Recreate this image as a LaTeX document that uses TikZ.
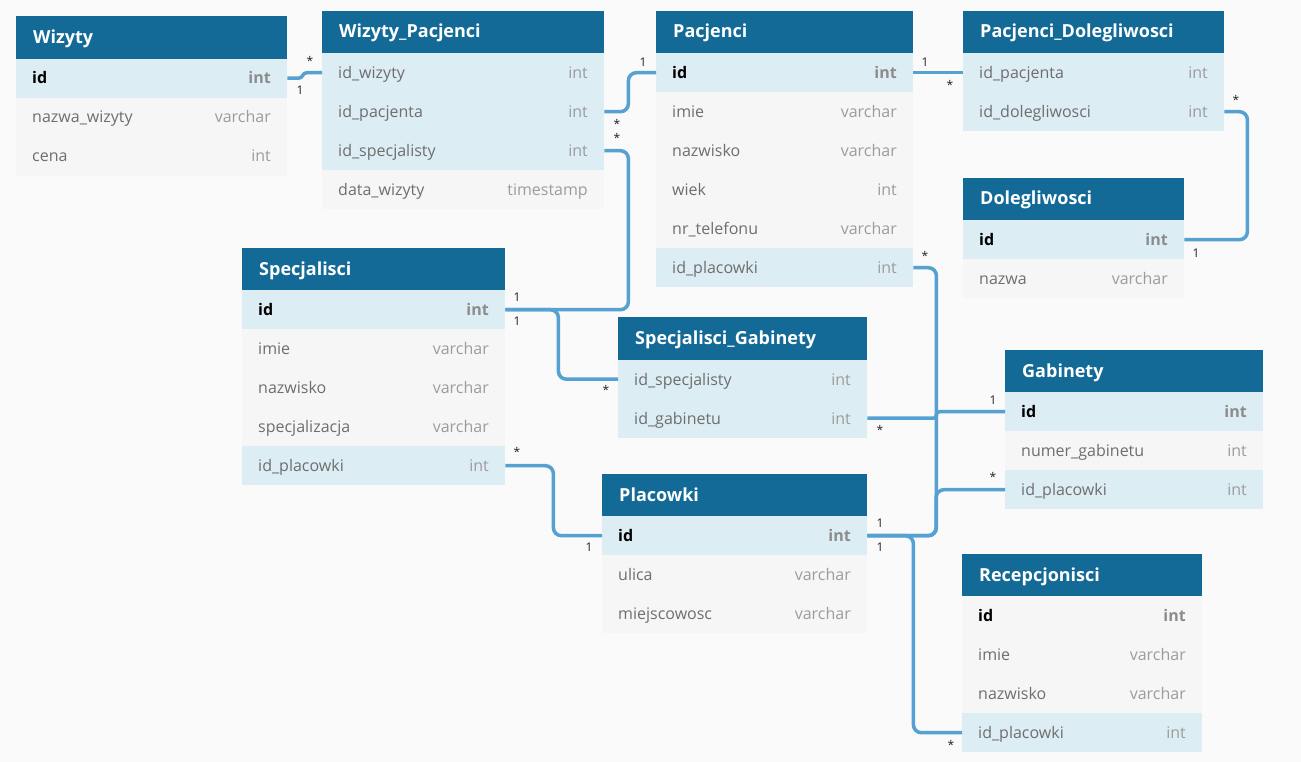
\documentclass[tikz,border=0pt]{standalone}
\usepackage{fontspec}
\setmainfont{Open Sans}
\definecolor{hdr}{HTML}{136A97}
\definecolor{keyrow}{HTML}{DDEDF4}
\definecolor{plainrow}{HTML}{F6F6F6}
\definecolor{bgc}{HTML}{FAFAFA}
\definecolor{linkc}{HTML}{55A1D2}
\definecolor{fieldc}{HTML}{6E6E6E}
\definecolor{typec}{HTML}{9C9C9C}
\definecolor{pktypec}{HTML}{8C8C8C}
\definecolor{lblc}{HTML}{222222}
\tikzset{
  hdrbox/.style={fill=hdr, draw=none, inner sep=0, anchor=north west, minimum height=42.5pt},
  hdrtxt/.style={anchor=base west, inner sep=0, text=white, font=\fontsize{18}{20}\selectfont\bfseries},
  kbox/.style={fill=keyrow, draw=none, inner sep=0, anchor=north west, minimum height=39pt},
  pbox/.style={fill=plainrow, draw=none, inner sep=0, anchor=north west, minimum height=39pt},
  ftxt/.style={anchor=base west, inner sep=0, text=fieldc, font=\fontsize{16}{18}\selectfont},
  ttxt/.style={anchor=base east, inner sep=0, text=typec, font=\fontsize{16}{18}\selectfont},
  pkftxt/.style={anchor=base west, inner sep=0, text=black, font=\fontsize{16}{18}\selectfont\bfseries},
  pkttxt/.style={anchor=base east, inner sep=0, text=pktypec, font=\fontsize{16}{18}\selectfont\bfseries},
  link/.style={draw=linkc, line width=3.5pt, rounded corners=8pt},
  lbl/.style={inner sep=0, text=lblc, font=\fontsize{12}{14}\selectfont}
}
% #1 name, #2 x, #3 y top, #4 width, #5 title
\newcommand\thead[5]{%
  \node[hdrbox, minimum width=#4pt] (#1) at (#2,#3) {};
  \pgfmathsetmacro\hbase{#3+27.5}%
  \node[hdrtxt] (#1-title) at (#2+17,\hbase) {#5};
  \def\curx{#2}\def\cury{#3}\def\curw{#4}}
% #1 name, #2 index, #3 box style, #4 field style, #5 type style, #6 field, #7 type
\newcommand\trow[7]{%
  \pgfmathsetmacro\rowy{\cury+42.5+39*#2}%
  \pgfmathsetmacro\rowb{\rowy+25.5}%
  \pgfmathsetmacro\rowr{\curx+\curw-16}%
  \node[#3, minimum width=\curw pt] (#1) at (\curx,\rowy) {};
  \node[#4] (#1-f) at (\curx+16,\rowb) {#6};
  \node[#5] (#1-t) at (\rowr,\rowb) {#7};}
\begin{document}
\begin{tikzpicture}[x=1pt,y=-1pt]
\fill[bgc] (0,0) rectangle (1301,762);
\useasboundingbox (0,0) rectangle (1301,762);

% Wizyty
\thead{wiz}{16}{16}{271}{Wizyty}
\trow{wiz-id}{0}{kbox}{pkftxt}{pkttxt}{id}{int}
\trow{wiz-nazwa}{1}{pbox}{ftxt}{ttxt}{nazwa\_wizyty}{varchar}
\trow{wiz-cena}{2}{pbox}{ftxt}{ttxt}{cena}{int}

% Wizyty_Pacjenci
\thead{wp}{322}{10.5}{282}{Wizyty\_Pacjenci}
\trow{wp-wiz}{0}{kbox}{ftxt}{ttxt}{id\_wizyty}{int}
\trow{wp-pac}{1}{kbox}{ftxt}{ttxt}{id\_pacjenta}{int}
\trow{wp-spec}{2}{kbox}{ftxt}{ttxt}{id\_specjalisty}{int}
\trow{wp-data}{3}{pbox}{ftxt}{ttxt}{data\_wizyty}{timestamp}

% Pacjenci
\thead{pac}{656}{10.5}{257}{Pacjenci}
\trow{pac-id}{0}{kbox}{pkftxt}{pkttxt}{id}{int}
\trow{pac-imie}{1}{pbox}{ftxt}{ttxt}{imie}{varchar}
\trow{pac-nazw}{2}{pbox}{ftxt}{ttxt}{nazwisko}{varchar}
\trow{pac-wiek}{3}{pbox}{ftxt}{ttxt}{wiek}{int}
\trow{pac-tel}{4}{pbox}{ftxt}{ttxt}{nr\_telefonu}{varchar}
\trow{pac-plac}{5}{kbox}{ftxt}{ttxt}{id\_placowki}{int}

% Pacjenci_Dolegliwosci
\thead{pd}{963}{10.5}{261}{Pacjenci\_Dolegliwosci}
\trow{pd-pac}{0}{kbox}{ftxt}{ttxt}{id\_pacjenta}{int}
\trow{pd-dol}{1}{kbox}{ftxt}{ttxt}{id\_dolegliwosci}{int}

% Dolegliwosci
\thead{dol}{963}{177.5}{221}{Dolegliwosci}
\trow{dol-id}{0}{kbox}{pkftxt}{pkttxt}{id}{int}
\trow{dol-nazwa}{1}{pbox}{ftxt}{ttxt}{nazwa}{varchar}

% Specjalisci
\thead{spec}{242}{247.5}{263}{Specjalisci}
\trow{spec-id}{0}{kbox}{pkftxt}{pkttxt}{id}{int}
\trow{spec-imie}{1}{pbox}{ftxt}{ttxt}{imie}{varchar}
\trow{spec-nazw}{2}{pbox}{ftxt}{ttxt}{nazwisko}{varchar}
\trow{spec-spz}{3}{pbox}{ftxt}{ttxt}{specjalizacja}{varchar}
\trow{spec-plac}{4}{kbox}{ftxt}{ttxt}{id\_placowki}{int}

% Specjalisci_Gabinety
\thead{sg}{618}{317}{249}{Specjalisci\_Gabinety}
\trow{sg-spec}{0}{kbox}{ftxt}{ttxt}{id\_specjalisty}{int}
\trow{sg-gab}{1}{kbox}{ftxt}{ttxt}{id\_gabinetu}{int}

% Gabinety
\thead{gab}{1005}{349.5}{258}{Gabinety}
\trow{gab-id}{0}{kbox}{pkftxt}{pkttxt}{id}{int}
\trow{gab-num}{1}{pbox}{ftxt}{ttxt}{numer\_gabinetu}{int}
\trow{gab-plac}{2}{kbox}{ftxt}{ttxt}{id\_placowki}{int}

% Placowki
\thead{plac}{602}{473.5}{265}{Placowki}
\trow{plac-id}{0}{kbox}{pkftxt}{pkttxt}{id}{int}
\trow{plac-ulica}{1}{pbox}{ftxt}{ttxt}{ulica}{varchar}
\trow{plac-miej}{2}{pbox}{ftxt}{ttxt}{miejscowosc}{varchar}

% Recepcjonisci
\thead{rec}{962}{553.5}{240}{Recepcjonisci}
\trow{rec-id}{0}{pbox}{pkftxt}{pkttxt}{id}{int}
\trow{rec-imie}{1}{pbox}{ftxt}{ttxt}{imie}{varchar}
\trow{rec-nazw}{2}{pbox}{ftxt}{ttxt}{nazwisko}{varchar}
\trow{rec-plac}{3}{kbox}{ftxt}{ttxt}{id\_placowki}{int}

% connectors
\coordinate (jogA) at ([xshift=11pt]wiz-id.east);
\coordinate (jogB) at ([xshift=-15pt]wp-wiz.west);
\draw[link, sharp corners] (wiz-id.east) -- (jogA) .. controls ([xshift=5pt]jogA) and ([xshift=-5pt]jogB) .. (jogB) -- (wp-wiz.west);
\draw[link] (wp-pac.east) -- ++(24,0) |- (pac-id.west);
\draw[link] (wp-spec.east) -- ++(24,0) |- (spec-id.east);
\draw[link] (spec-id.east) -- ++(53,0) |- (sg-spec.west);
\draw[link] (pac-id.east) -- (pd-pac.west);
\draw[link] (pd-dol.east) -- ++(23,0) |- (dol-id.east);
\draw[link] (pac-plac.east) -- ++(23,0) |- (plac-id.east);
\draw[link, rounded corners=3pt] (sg-gab.east) -- ++(69,0) |- (gab-id.west);
\draw[link] (gab-plac.west) -- ++(-69,0) |- (plac-id.east);
\draw[link] (plac-id.east) -- ++(46,0) |- (rec-plac.west);
\draw[link] (spec-plac.east) -- ++(48,0) |- (plac-id.west);

% labels
\node[lbl] (l1) at (300,90) {1};
\node[lbl] (l2) at (310,61) {*};
\node[lbl] (l3) at (617,124) {*};
\node[lbl] (l4) at (643,62) {1};
\node[lbl] (l5) at (617,138) {*};
\node[lbl] (l6) at (517,297) {1};
\node[lbl] (l7) at (517,321) {1};
\node[lbl] (l8) at (606,390) {*};
\node[lbl] (l9) at (925,62) {1};
\node[lbl] (l10) at (950,85) {*};
\node[lbl] (l11) at (1236,100) {*};
\node[lbl] (l12) at (1196,253) {1};
\node[lbl] (l13) at (925,256) {*};
\node[lbl] (l14) at (880,430) {*};
\node[lbl] (l15) at (993,400) {1};
\node[lbl] (l16) at (993,477) {*};
\node[lbl] (l17) at (880,523) {1};
\node[lbl] (l18) at (880,547) {1};
\node[lbl] (l19) at (517,452) {*};
\node[lbl] (l20) at (589,547) {1};
\node[lbl] (l21) at (951,745) {*};
\end{tikzpicture}
\end{document}
